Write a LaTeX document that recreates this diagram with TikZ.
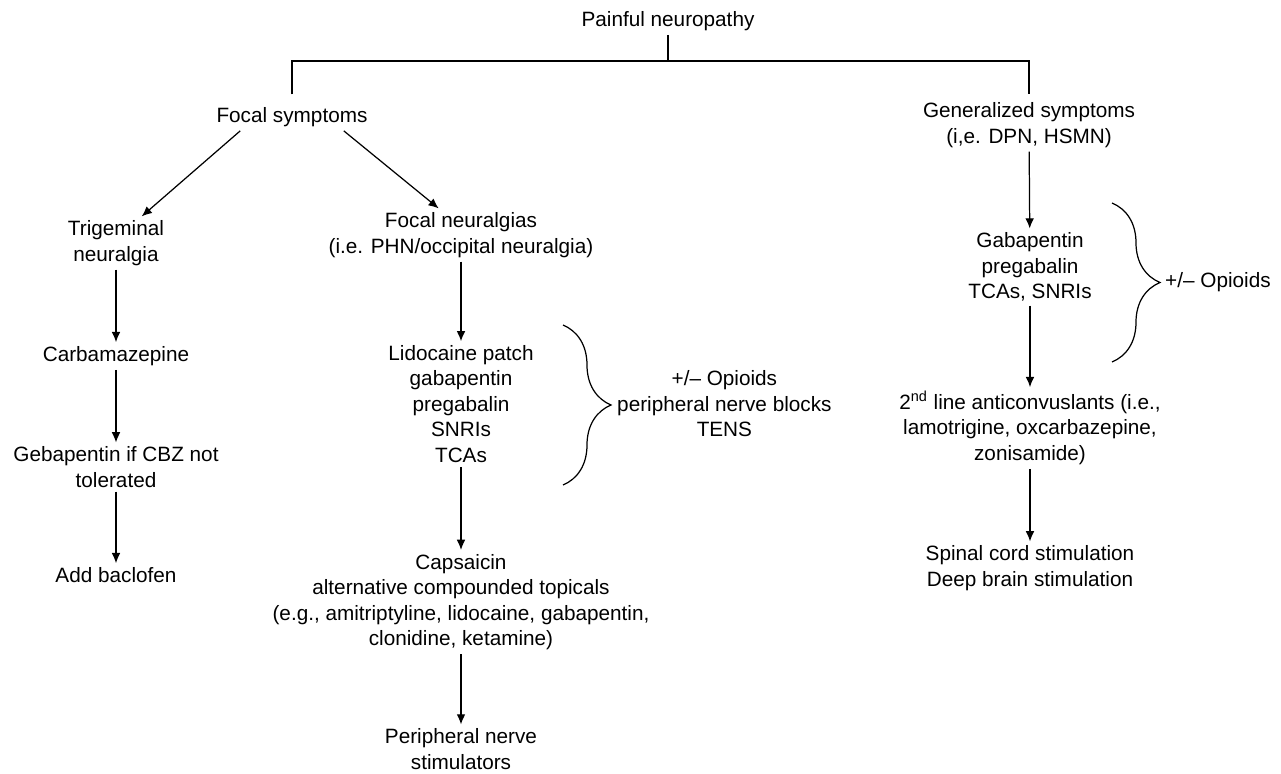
\documentclass[tikz,border=0pt]{standalone}
\usepackage{fontspec}
\setmainfont{Liberation Sans}
\usetikzlibrary{positioning,arrows.meta}
\usetikzlibrary{decorations.pathreplacing}

\begin{document}
\begin{tikzpicture}[
    x=0.02cm, y=-0.02cm,
    % Text entries
    entry/.style={
        align=center,
        inner sep=2.2pt,
        font=\fontsize{11.8}{14.5}\selectfont
    },
    % Arrow
    arrow/.style={
        -{Latex[length=5.8pt,width=5pt]},
        line width=0.7pt
    },
    % Plain line
    link/.style={
        line width=0.7pt
    },
    % Curly brace
    curly/.style={
        decorate,
        decoration={brace,amplitude=0.96cm},
        line width=0.7pt
    }
]

\useasboundingbox (0,0) rectangle (1281,774);

% Top of the tree
\node[entry] (title) at (668,21) {Painful neuropathy};
\node[entry] (focal) at (292,117) {Focal symptoms};
\node[entry] (general) at (1029,125) {Generalized symptoms\\(i,e. DPN, HSMN)};

% Left column
\node[entry] (trigem) at (116,243) {Trigeminal\\neuralgia};
\node[entry] (carba) at (116,356) {Carbamazepine};
\node[entry] (gebap) at (116,467) {Gebapentin if CBZ not\\tolerated};
\node[entry] (baclo) at (116,575) {Add baclofen};

% Middle column
\node[entry] (neural) at (461,235) {Focal neuralgias\\(i.e. PHN/occipital neuralgia)};
\node[entry] (lido) at (461,404) {Lidocaine patch\\gabapentin\\pregabalin\\SNRIs\\TCAs};
\node[entry] (caps) at (461,602) {Capsaicin\\alternative compounded topicals\\(e.g., amitriptyline, lidocaine, gabapentin,\\clonidine, ketamine)};
\node[entry] (pns) at (461,749) {Peripheral nerve\\stimulators};

% Right column
\node[entry] (gaba) at (1030,267) {Gabapentin\\pregabalin\\TCAs, SNRIs};
\node[entry] (second) at (1030,428) {2\textsuperscript{nd} line anticonvuslants (i.e.,\\lamotrigine, oxcarbazepine,\\zonisamide)};
\node[entry] (scs) at (1030,568) {Spinal cord stimulation\\Deep brain stimulation};

% Braces with add-on treatments
\coordinate (lbraceT) at (563,325);
\coordinate (lbraceB) at (563,485);
\draw[curly] (lbraceT) -- (lbraceB);
\node[entry, anchor=west] (addon) at (613,404) {+/– Opioids\\peripheral nerve blocks\\TENS};

\coordinate (rbraceT) at (1112,203);
\coordinate (rbraceB) at (1112,362);
\draw[curly] (rbraceT) -- (rbraceB);
\node[entry, anchor=west] (opioid) at (1161,282) {+/– Opioids};

% Split bar
\coordinate (bar) at (668,61);
\draw[link] (title) -- (title |- bar);
\draw[link, shorten <=5pt, shorten >=2.5pt] (focal) -- (focal |- bar) -- (general |- bar) -- (general);

% Arrows
\draw[arrow] (focal.195) -- (trigem.46);
\draw[arrow] (focal.345) -- (neural.130);
\draw[arrow] (trigem) -- (carba);
\draw[arrow] (carba) -- (gebap);
\draw[arrow] (gebap) -- (baclo);
\draw[arrow] (neural) -- (lido);
\draw[arrow] (lido) -- (caps);
\draw[arrow] (caps) -- (pns);
\draw[arrow] (general) -- (gaba);
\draw[arrow] (gaba) -- (second);
\draw[arrow] (second) -- (scs);

\end{tikzpicture}
\end{document}
